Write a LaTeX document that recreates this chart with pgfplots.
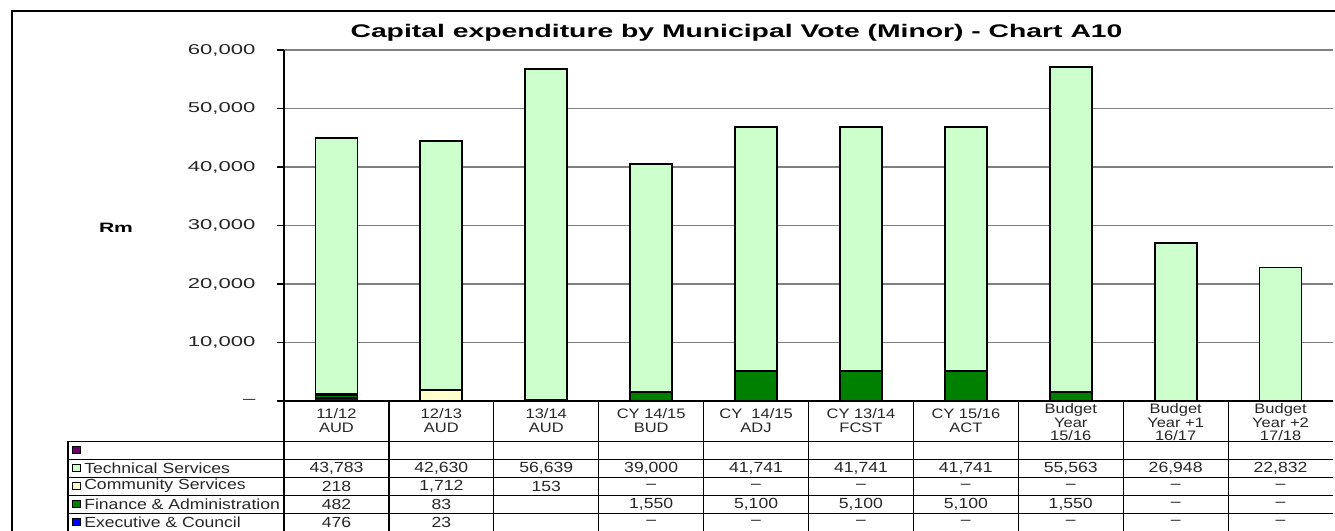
\documentclass[border=0pt]{standalone}
\usepackage{fontspec}
\setmainfont{Liberation Sans}[FakeStretch=1.2]
\newfontfamily\widefont{Liberation Sans}[FakeStretch=1.55]
\usepackage{pgfplots}
\pgfplotsset{compat=1.18}
\definecolor{techgreen}{HTML}{CCFFCC}
\definecolor{commyellow}{HTML}{FFFFCC}
\definecolor{fingreen}{HTML}{008000}
\definecolor{execblue}{HTML}{0000FF}
\definecolor{purp}{HTML}{660066}
\definecolor{txt}{HTML}{262626}
\begin{document}
\begin{tikzpicture}[x=0.75pt,y=0.75pt]
\useasboundingbox (0,0) rectangle (1335,531);
\draw[black,line width=0.9pt] (12,-14) -- (12,520) -- (1345,520);
\node[font=\widefont\bfseries\fontsize{13.7}{15}\selectfont] at (736.5,498) {Capital expenditure by Municipal Vote (Minor) - Chart A10};
\node[font=\widefont\bfseries\fontsize{10.2}{12}\selectfont] at (116,303) {Rm};
\begin{axis}[at={(213pt,97.5pt)}, anchor=south west, scale only axis,
  width=786.75pt, height=263.25pt,
  xmin=-0.5, xmax=9.5, ymin=0, ymax=60000,
  ybar stacked, bar width=31.5pt,
  axis lines*=left,
  axis line style={black,line width=1.1pt},
  xtick=\empty,
  ytick={0,10000,20000,30000,40000,50000,60000},
  yticklabels={{–},{10,000},{20,000},{30,000},{40,000},{50,000},{60,000}},
  yticklabel style={font=\widefont\fontsize{10.7}{12}\selectfont, text=txt, inner sep=0pt, xshift=-16pt},
  tick align=outside, major tick length=5.25pt,
  tick style={black,line width=0.8pt},
  ymajorgrids, grid style={gray,line width=0.9pt},
  scaled y ticks=false,
]
\addplot[fill=execblue,draw=black,line width=1.3pt] coordinates {(0,476)(1,23)(2,0)(3,0)(4,0)(5,0)(6,0)(7,0)(8,0)(9,0)};
\addplot[fill=fingreen,draw=black,line width=1.3pt] coordinates {(0,482)(1,83)(2,0)(3,1550)(4,5100)(5,5100)(6,5100)(7,1550)(8,0)(9,0)};
\addplot[fill=commyellow,draw=black,line width=1.3pt] coordinates {(0,218)(1,1712)(2,153)(3,0)(4,0)(5,0)(6,0)(7,0)(8,0)(9,0)};
\addplot[fill=techgreen,draw=black,line width=1.3pt] coordinates {(0,43783)(1,42630)(2,56639)(3,39000)(4,41741)(5,41741)(6,41741)(7,55563)(8,26948)(9,22832)};
\end{axis}
% data table grid
\foreach \k in {1,...,9} {\draw[black,line width=0.9pt] ({284+104.9*\k},130) -- ({284+104.9*\k},0);}
\draw[black,line width=0.9pt] (284,130) -- (284,0);
\draw[black,line width=0.9pt] (68,90) -- (68,0);
\foreach \yy in {90,72,54,36,18} {\draw[black,line width=0.7pt] (68,\yy) -- (1333,\yy);}
\begin{scope}[every node/.style={font=\fontsize{11}{9.6}\selectfont, text=txt, align=center, inner sep=0pt}]
\begin{scope}[every node/.append style={font=\fontsize{10.3}{9.6}\selectfont}]
\foreach \la/\lb [count=\n from 0] in {{11/12}/AUD,{12/13}/AUD,{13/14}/AUD,{CY 14/15}/BUD,{CY\ \ 14/15}/ADJ,{CY 13/14}/FCST,{CY 15/16}/ACT}
  {\node at ({336.45+104.9*\n},117) {\la};
   \node at ({336.45+104.9*\n},103.5) {\lb};}
\foreach \la/\lb [count=\n from 7] in {{Year}/{15/16},{Year +1}/{16/17},{Year +2}/{17/18}}
  {\node at ({336.45+104.9*\n},121.5) {Budget};
   \node at ({336.45+104.9*\n},108.5) {\la};
   \node at ({336.45+104.9*\n},95.5) {\lb};}
\end{scope}
\foreach \v [count=\n from 0] in {{43,783},{42,630},{56,639},{39,000},{41,741},{41,741},{41,741},{55,563},{26,948},{22,832}}
  {\node at ({336.45+104.9*\n},63) {\v};}
\foreach \v [count=\n from 0] in {218,{1,712},153,–,–,–,–,–,–,–}
  {\node at ({336.45+104.9*\n},45) {\v};}
\foreach \v [count=\n from 0] in {482,83,{},{1,550},{5,100},{5,100},{5,100},{1,550},–,–}
  {\node at ({336.45+104.9*\n},27) {\v};}
\foreach \v [count=\n from 0] in {476,23,{},–,–,–,–,–,–,–}
  {\node at ({336.45+104.9*\n},9) {\v};}
\foreach \c/\yy/\lab in {purp/81/{},techgreen/63/{Technical Services},commyellow/45/{Community Services},fingreen/27/{Finance \& Administration},execblue/9/{Executive \& Council}}
  {\draw[black,line width=1.1pt,fill=\c] (72.5,{\yy-3.5}) rectangle (80.5,{\yy+3.5});
   \node[anchor=west] at (84,\yy) {\lab};}
\end{scope}
\end{tikzpicture}
\end{document}
